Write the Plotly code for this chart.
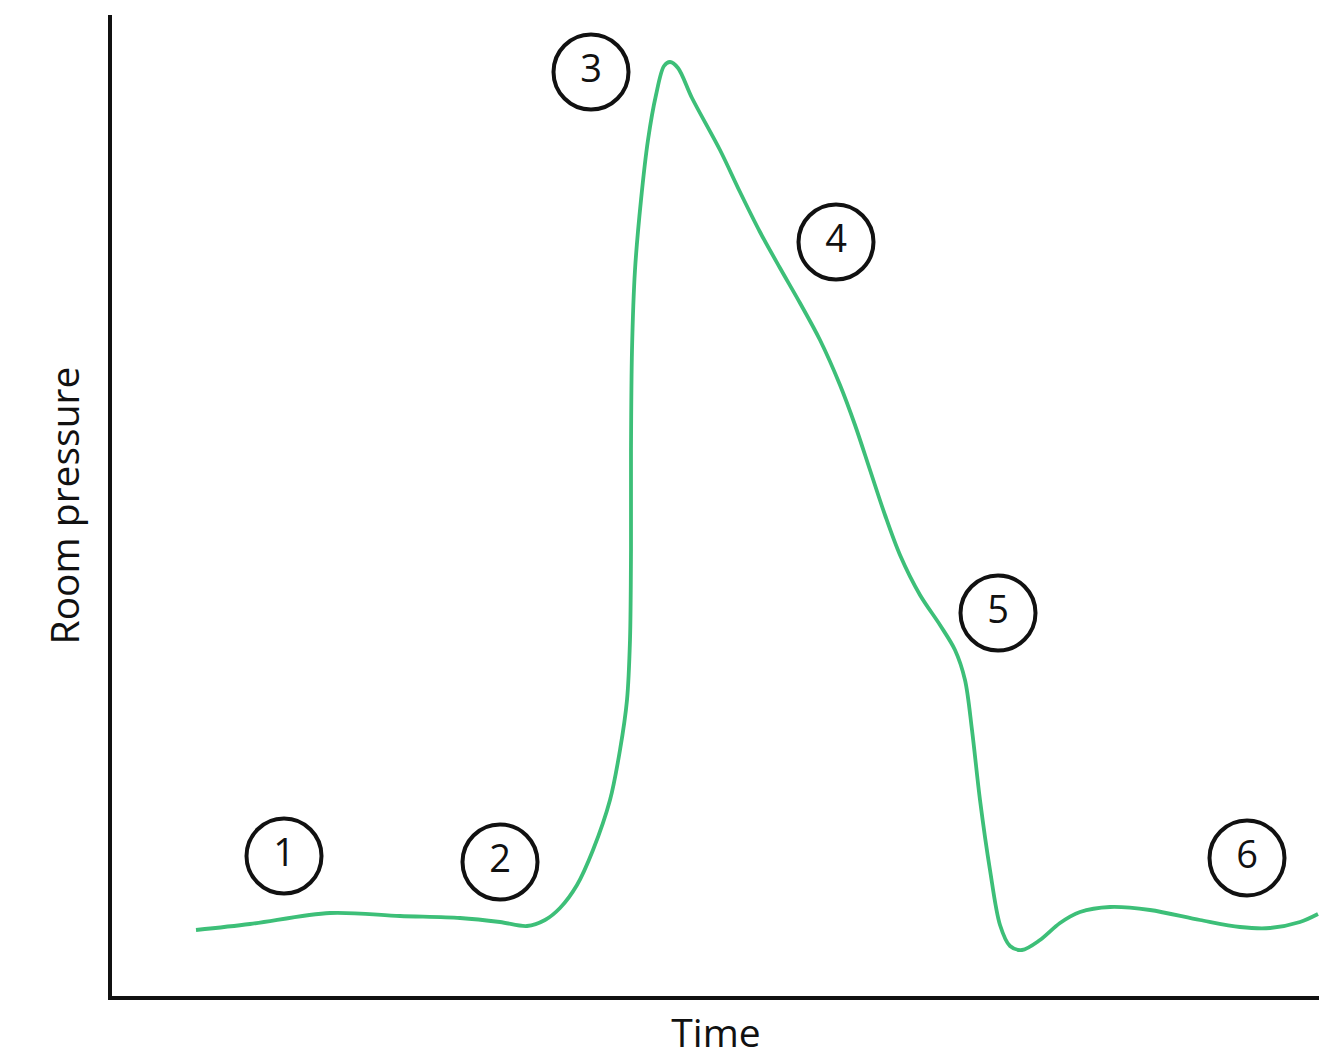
import plotly.graph_objects as go

# Curve (arbitrary units: time along x, pressure along y)
time = [84, 138, 218, 288, 348, 388, 415, 433, 448, 465, 481, 498, 508, 515, 518, 519,
        519, 520, 523, 529, 536, 544, 552, 558, 566, 580, 608, 628, 648, 668, 688, 708,
        728, 743, 758, 773, 788, 808, 828, 843, 853, 860, 868, 878, 888, 898, 910, 928,
        948, 968, 998, 1038, 1088, 1128, 1158, 1188, 1206]
pressure = [66, 72, 83, 80, 78, 74, 70, 76, 88, 111, 146, 196, 246, 296, 356, 446,
            546, 646, 726, 796, 856, 901, 930, 934, 928, 898, 846, 804, 764, 728, 693, 656,
            611, 571, 526, 481, 441, 401, 371, 346, 316, 266, 196, 126, 71, 50, 46, 56,
            73, 84, 89, 86, 76, 69, 68, 74, 82]

# Circled stage markers
stage_labels = ["1", "2", "3", "4", "5", "6"]
stage_time = [172, 388, 479, 724, 886, 1135]
stage_pressure = [140, 134, 924, 754, 383, 138]

fig = go.Figure()
fig.add_trace(go.Scatter(
    x=time, y=pressure, mode="lines",
    line=dict(color="#3dbf78", width=3.8, shape="spline", smoothing=0.9),
    hoverinfo="skip", showlegend=False,
))
fig.add_trace(go.Scatter(
    x=stage_time, y=stage_pressure, mode="markers+text",
    text=stage_labels, textposition="middle center",
    textfont=dict(family="Open Sans", size=38, color="#111111"),
    marker=dict(symbol="circle", size=75, color="white",
                line=dict(color="#111111", width=4)),
    showlegend=False,
))

fig.update_layout(
    width=1327, height=1056,
    margin=dict(l=104, r=15, t=7, b=68),
    paper_bgcolor="white", plot_bgcolor="white",
    font=dict(family="Open Sans", color="#111111"),
    xaxis=dict(range=[0, 1208], showline=True, linecolor="#111111", linewidth=3.5,
               showgrid=False, zeroline=False, showticklabels=False, ticks="",
               mirror=False,
               title=dict(text="Time", font=dict(size=39, family="Open Sans"), standoff=22)),
    yaxis=dict(range=[0, 981], showline=True, linecolor="#111111", linewidth=3.5,
               showgrid=False, zeroline=False, showticklabels=False, ticks="",
               mirror=False,
               title=dict(text="Room pressure", font=dict(size=39, family="Open Sans"), standoff=18)),
)

fig.write_html("out.html")
